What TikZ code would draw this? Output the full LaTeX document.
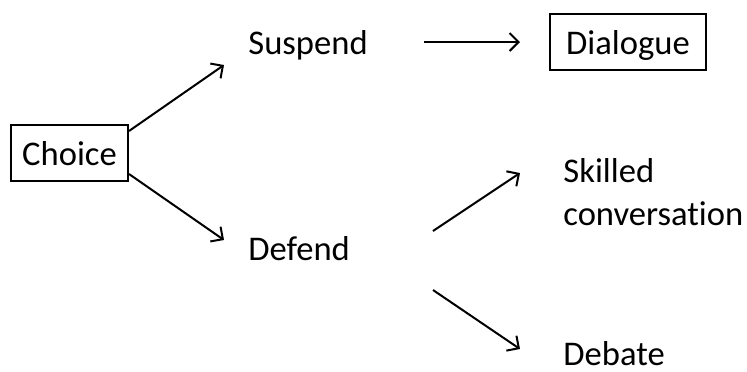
\documentclass[tikz,border=0pt]{standalone}
\usepackage{fontspec}
\setmainfont{Carlito}[Ligatures=NoCommon]
\usetikzlibrary{calc}
\usetikzlibrary{arrows.meta}

\tikzset{
  box/.style={draw,line width=1bp,text depth=0pt,inner sep=0pt,minimum height=28bp},
  word/.style={inner sep=0pt,anchor=base west},
  arr/.style={line width=1bp,-{Straight Barb[length=4.5bp,width=9bp]}},
}

\begin{document}
\begin{tikzpicture}[x=0.5bp,y=-0.5bp,font=\fontsize{17.3bp}{21.5bp}\selectfont]
\useasboundingbox (0,0) rectangle (747,371);
\node[box,minimum width=58.5bp] (choice) at (69.5,153) {Choice};
\node[word] (suspend) at (248,54) {Suspend};
\node[word] (defend) at (248,260) {Defend};
\node[box,minimum width=78bp] (dialogue) at (628,42) {Dialogue};
\node[word,align=left] (skilled) at (563,225) {Skilled\\conversation};
\node[word] (debate) at (563,365) {Debate};

\draw[arr] ($(choice.north east)+(0,7)$) -- ($(suspend.base west)+(-24,11)$);
\draw[arr] ($(choice.south east)+(0,-8)$) -- ($(defend.base west)+(-24,-20)$);
\draw[arr] ($(suspend.base west)+(176,-12)$) -- ($(dialogue.west)+(-29,0)$);
\draw[arr] ($(defend.base west)+(185,-29)$) -- ($(skilled.base west)+(-43,-52)$);
\draw[arr] ($(defend.base west)+(185,30)$) -- ($(debate.base west)+(-43,-16)$);
\end{tikzpicture}
\end{document}
